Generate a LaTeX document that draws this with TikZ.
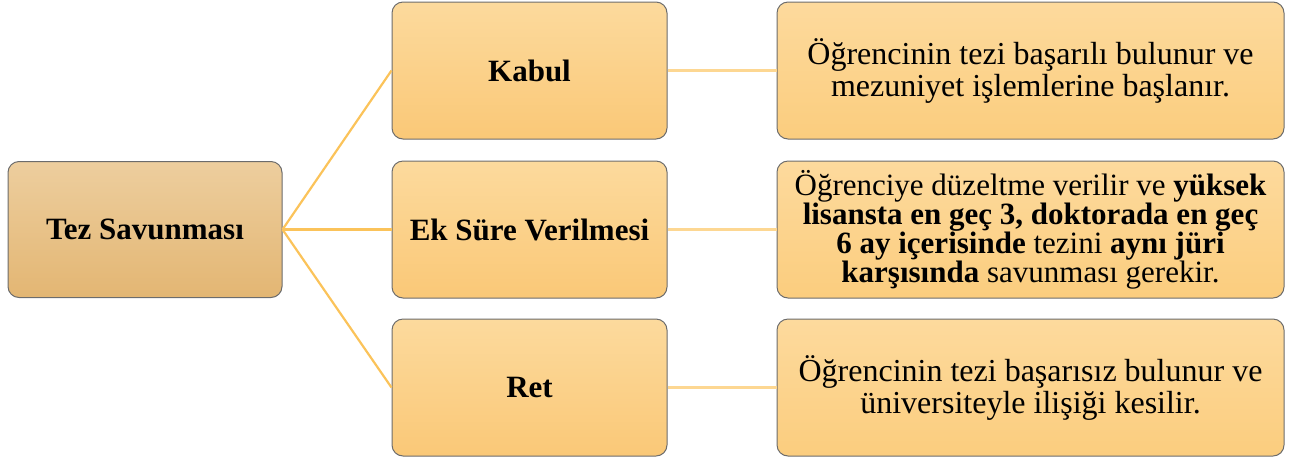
\documentclass[tikz,border=0pt]{standalone}
\usepackage{fontspec}
\setmainfont{LiberationSerif}[Extension=.ttf, UprightFont=*-Regular, BoldFont=*-Bold, ItalicFont=*-Italic, BoldItalicFont=*-BoldItalic]
\begin{document}
\begin{tikzpicture}[x=1pt,y=-1pt,
  box/.style={draw=gray!85!black, line width=1pt, rounded corners=11pt, inner sep=0pt, align=center, shading=axis},
  rootbox/.style={box, top color=rootTop, bottom color=rootBot, minimum width=274pt, minimum height=136pt},
  midbox/.style={box, top color=midTop, bottom color=midBot, minimum width=275pt, minimum height=137pt},
  descbox/.style={box, top color=descTop, bottom color=descBot, minimum width=507pt, minimum height=137pt},
  mainlink/.style={draw=linkA, line width=2.2pt},
  sidelink/.style={draw=linkB, line width=2.2pt},
  lbl/.style={font=\fontsize{31}{34}\selectfont\bfseries},
  desc/.style={font=\fontsize{32}{32}\selectfont},
  descsmall/.style={font=\fontsize{31}{29}\selectfont}]
\definecolor{rootTop}{HTML}{EDCE9E}
\definecolor{rootBot}{HTML}{E3B673}
\definecolor{midTop}{HTML}{FCDA9D}
\definecolor{midBot}{HTML}{FAC877}
\definecolor{descTop}{HTML}{FDDA9D}
\definecolor{descBot}{HTML}{FBCD7E}
\definecolor{linkA}{HTML}{FBC35A}
\definecolor{linkB}{HTML}{FDD792}
\useasboundingbox (0,0) rectangle (1298,459);
\node[rootbox] (root) at (145,229.5) {};
\node[midbox] (kabul) at (529.5,70.5) {};
\node[midbox] (ek) at (529.5,229.5) {};
\node[midbox] (ret) at (529.5,387.5) {};
\node[descbox] (d1) at (1030.5,70.5) {};
\node[descbox] (d2) at (1030.5,229.5) {};
\node[descbox] (d3) at (1030.5,387.5) {};
\draw[mainlink] (root.east) -- (kabul.west);
\draw[mainlink] (root.east) -- (ek.west);
\draw[mainlink] (root.east) -- (ret.west);
\draw[sidelink] (kabul.east) -- (d1.west);
\draw[sidelink] (ek.east) -- (d2.west);
\draw[sidelink] (ret.east) -- (d3.west);
\node[lbl] (tRoot) at (root) {Tez Savunması};
\node[lbl] (tKabul) at (kabul) {Kabul};
\node[lbl] (tEk) at (ek) {Ek Süre Verilmesi};
\node[lbl] (tRet) at (ret) {Ret};
\node[desc, align=center] (t1) at (d1) {Öğrencinin tezi başarılı bulunur ve\\mezuniyet işlemlerine başlanır.};
\node[descsmall, align=center] (t2) at (d2) {Öğrenciye düzeltme verilir ve \textbf{yüksek}\\\textbf{lisansta en geç 3, doktorada en geç}\\\textbf{6 ay içerisinde} tezini \textbf{aynı jüri}\\\textbf{karşısında} savunması gerekir.};
\node[desc, align=center] (t3) at (d3) {Öğrencinin tezi başarısız bulunur ve\\üniversiteyle ilişiği kesilir.};
\end{tikzpicture}
\end{document}
